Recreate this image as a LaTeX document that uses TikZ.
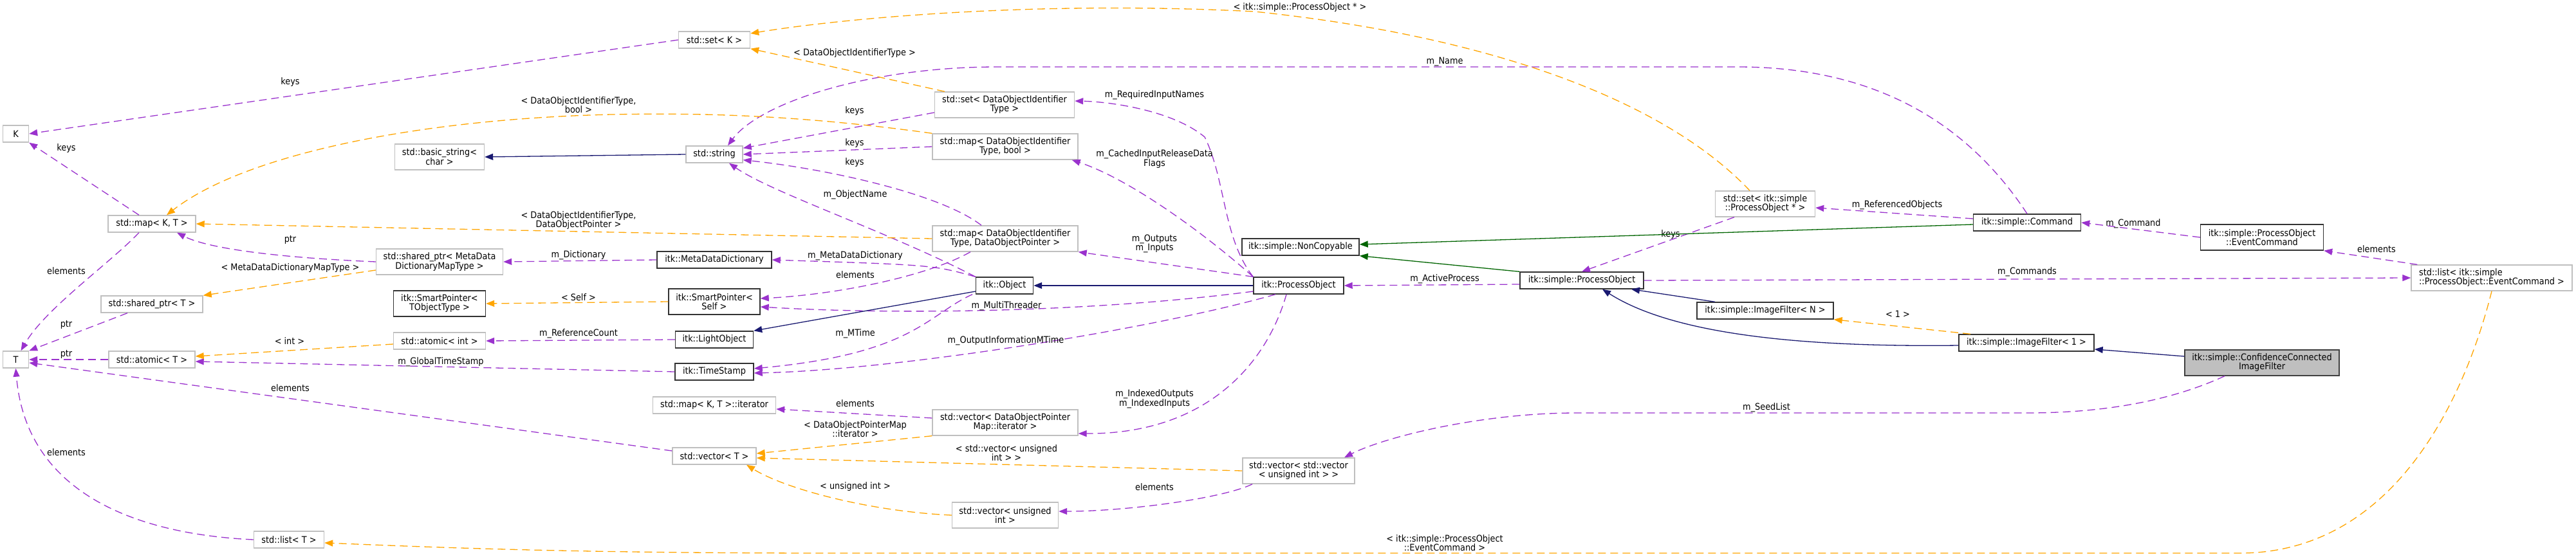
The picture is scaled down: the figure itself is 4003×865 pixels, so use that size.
\documentclass[tikz,border=0pt]{standalone}
\usepackage{fontspec}
\setmainfont{DejaVu Sans Condensed}
\usetikzlibrary{arrows.meta}
\definecolor{usePurple}{HTML}{9A32CD}
\definecolor{tmplOrange}{HTML}{FFA500}
\definecolor{pubBlue}{HTML}{191970}
\definecolor{privGreen}{HTML}{006400}
\definecolor{extGray}{HTML}{BFBFBF}

\begin{document}
\begin{tikzpicture}[x=1pt, y=-1pt, font=\fontsize{14.3}{14}\selectfont,
    classbox/.style={draw, line width=1.4pt, inner sep=2pt, minimum height=26pt, align=center, fill=white},
    extbox/.style={classbox, draw=extGray},
    docbox/.style={classbox, draw=black!80},
    curbox/.style={classbox, draw=black!75, fill=extGray},
    twoline/.style={minimum height=40pt},
    usage/.style={draw=usePurple, line width=1.3pt, dash pattern=on 12pt off 7pt, -{Triangle[length=13pt,width=10pt]}},
    tmpl/.style={draw=tmplOrange, line width=1.3pt, dash pattern=on 12pt off 7pt, -{Triangle[length=13pt,width=10pt]}},
    pubinh/.style={draw=pubBlue, line width=1.3pt, -{Triangle[length=13pt,width=10pt]}},
    privinh/.style={draw=privGreen, line width=1.3pt, -{Triangle[length=13pt,width=10pt]}},
    lbl/.style={inner sep=0pt, align=center}]
    \useasboundingbox (0,0) rectangle (4003,865);

    % std containers and plain types
    \node[extbox, minimum width=40pt] (K) at (24.5,208) {K};
    \node[extbox, minimum width=40pt] (T) at (24.5,559) {T};
    \node[extbox, minimum width=136pt] (mapKT) at (236,348) {std::map< K, T >};
    \node[extbox, minimum width=158pt] (sptrT) at (236,473) {std::shared\_ptr< T >};
    \node[extbox, minimum width=134pt] (atomT) at (236,559) {std::atomic< T >};
    \node[extbox, minimum width=109pt] (listT) at (449,839) {std::list< T >};
    \node[extbox, twoline, minimum width=139pt] (bstr) at (683,244) {std::basic\_string<\\char >};
    \node[extbox, twoline, minimum width=197pt] (sptrMD) at (683,407) {std::shared\_ptr< MetaData\\DictionaryMapType >};
    \node[docbox, twoline, minimum width=143pt] (spTOT) at (683,472) {itk::SmartPointer<\\TObjectType >};
    \node[extbox, minimum width=143pt] (atomInt) at (683,530) {std::atomic< int >};
    \node[extbox, minimum width=111pt] (setK) at (1110,62) {std::set< K >};
    \node[extbox, minimum width=88pt] (str) at (1110,240) {std::string};
    \node[docbox, minimum width=178pt] (mdd) at (1110,404) {itk::MetaDataDictionary};
    \node[docbox, twoline, minimum width=142pt] (spSelf) at (1110,469) {itk::SmartPointer<\\Self >};
    \node[docbox, minimum width=121pt] (light) at (1110,528) {itk::LightObject};
    \node[docbox, minimum width=122pt] (tstamp) at (1110,578) {itk::TimeStamp};
    \node[extbox, minimum width=191pt] (mapIt) at (1110,630) {std::map< K, T >::iterator};
    \node[extbox, minimum width=130pt] (vecT) at (1110,709) {std::vector< T >};
    \node[extbox, twoline, minimum width=217pt] (setDOI) at (1561,163) {std::set< DataObjectIdentifier\\Type >};
    \node[extbox, twoline, minimum width=226pt] (mapBool) at (1562,228) {std::map< DataObjectIdentifier\\Type, bool >};
    \node[extbox, twoline, minimum width=226pt] (mapDOP) at (1562,371) {std::map< DataObjectIdentifier\\Type, DataObjectPointer >};
    \node[docbox, minimum width=89pt] (obj) at (1561,444) {itk::Object};
    \node[extbox, twoline, minimum width=226pt] (vecDOP) at (1562,657) {std::vector< DataObjectPointer\\Map::iterator >};
    \node[extbox, twoline, minimum width=165pt] (vecUInt) at (1562,801) {std::vector< unsigned\\int >};
    % itk::simple classes
    \node[docbox, minimum width=182pt] (nonCopy) at (2021,384) {itk::simple::NonCopyable};
    \node[docbox, minimum width=140pt] (itkPO) at (2018,444) {itk::ProcessObject};
    \node[extbox, twoline, minimum width=174pt] (vvUInt) at (2018,732) {std::vector< std::vector\\< unsigned int > >};
    \node[docbox, minimum width=192pt] (simPO) at (2458,436) {itk::simple::ProcessObject};
    \node[extbox, twoline, minimum width=155pt] (setSPO) at (2743,317) {std::set< itk::simple\\::ProcessObject * >};
    \node[docbox, minimum width=212pt] (ifN) at (2743,483) {itk::simple::ImageFilter< N >};
    \node[docbox, minimum width=167pt] (cmd) at (3150,346) {itk::simple::Command};
    \node[docbox, minimum width=210pt] (if1) at (3149,533) {itk::simple::ImageFilter< 1 >};
    \node[docbox, twoline, minimum width=191pt] (evCmd) at (3515,369) {itk::simple::ProcessObject\\::EventCommand};
    \node[curbox, twoline, minimum width=240pt] (ccf) at (3515,564) {itk::simple::ConfidenceConnected\\ImageFilter};
    \node[extbox, twoline, minimum width=250pt, align=left] (listEC) at (3872,432) {std::list< itk::simple\\::ProcessObject::EventCommand >};

    % usage relations
    \draw[usage] (setK.west) -- (K.east) node[lbl] at (451,128) {keys};
    \draw[usage] ([xshift=-20pt]mapKT.north) -- (K.south east) node[lbl] at (103,231) {keys};
    \draw[usage] ([xshift=-20pt]mapKT.south) .. controls (170,410) and (70,480) .. ([xshift=8pt]T.north) node[lbl] at (103,421) {elements};
    \draw[usage] ([xshift=-38pt]sptrT.south) -- (T.north east) node[lbl] at (103,505) {ptr};
    \draw[usage] (atomT.west) -- (T.east) node[lbl] at (103,551) {ptr};
    \draw[usage] ([yshift=8pt]vecT.west) -- ([yshift=-5pt]T.east) node[lbl] at (451,603) {elements};
    \draw[usage] (listT.west) .. controls (200,830) and (40,760) .. (T.south) node[lbl] at (103,703) {elements};
    \draw[usage] (sptrMD.west) .. controls (420,400) and (320,385) .. ([xshift=39pt]mapKT.south) node[lbl] at (451,373) {ptr};
    \draw[usage] (mdd.west) -- (sptrMD.east) node[lbl] at (899,397) {m\_Dictionary};
    \draw[usage] (obj.north west) .. controls (1450,412) .. (mdd.east) node[lbl] at (1329,398) {m\_MetaDataDictionary};
    \draw[usage] (obj.north west) .. controls (1380,360) and (1200,300) .. ([xshift=23pt]str.south) node[lbl] at (1329,303) {m\_ObjectName};
    \draw[usage] ([yshift=-12pt]setDOI.west) -- ([yshift=-4pt]str.north east) node[lbl] at (1328,173) {keys};
    \draw[usage] (mapBool.west) -- (str.east) node[lbl] at (1328,223) {keys};
    \draw[usage] ([xshift=-37pt]mapDOP.north) .. controls (1460,300) and (1280,262) .. ([yshift=5pt]str.south east) node[lbl] at (1328,253) {keys};
    \draw[usage] (cmd.north) .. controls (3050,180) and (2900,104) .. (2700,104) -- (1550,104) .. controls (1350,104) and (1180,160) .. ([xshift=21pt]str.north) node[lbl] at (2245,96) {m\_Name};
    \draw[usage] (itkPO.north west) .. controls (1900,370) and (1905,280) .. (1872,213) .. controls (1820,170) and (1720,158) .. ([yshift=6pt]setDOI.east) node[lbl] at (1794,148) {m\_RequiredInputNames};
    \draw[usage] (itkPO.north west) .. controls (1880,370) and (1760,280) .. ([xshift=-10pt]mapBool.south east) node[lbl] at (1794,247) {m\_CachedInputReleaseData\\Flags};
    \draw[usage] (itkPO.north west) -- (mapDOP.south east) node[lbl] at (1794,379) {m\_Outputs\\m\_Inputs};
    \draw[usage] ([yshift=-9pt]itkPO.west) .. controls (1700,485) and (1400,490) .. ([yshift=-8pt]spSelf.east) node[lbl] at (1564,476) {m\_MultiThreader};
    \draw[usage] ([xshift=-36pt]itkPO.south) .. controls (1800,510) and (1400,575) .. ([yshift=-2pt]tstamp.east) node[lbl] at (1563,530) {m\_OutputInformationMTime};
    \draw[usage] ([xshift=-19pt]itkPO.south) .. controls (1970,560) and (1880,675) .. ([yshift=-17pt]vecDOP.east) node[lbl] at (1794,620) {m\_IndexedOutputs\\m\_IndexedInputs};
    \draw[usage] ([xshift=-54pt]mapDOP.south) .. controls (1440,430) and (1300,458) .. ([yshift=5pt]spSelf.east) node[lbl] at (1329,427) {elements};
    \draw[usage] ([xshift=-50pt]obj.south) .. controls (1440,490) and (1420,550) .. ([yshift=5pt]tstamp.east) node[lbl] at (1329,519) {m\_MTime};
    \draw[usage] (light.west) -- (atomInt.east) node[lbl] at (899,519) {m\_ReferenceCount};
    \draw[usage] (tstamp.west) -- ([yshift=-3pt]atomT.east) node[lbl] at (685,563) {m\_GlobalTimeStamp};
    \draw[usage] ([yshift=7pt]vecDOP.west) -- ([yshift=-6pt]mapIt.east) node[lbl] at (1329,627) {elements};
    \draw[usage] ([xshift=-72pt]vvUInt.south) .. controls (1900,775) and (1750,795) .. ([yshift=6pt]vecUInt.east) node[lbl] at (1794,757) {elements};
    \draw[usage] ([xshift=-58pt]ccf.south) .. controls (3380,620) and (3280,642) .. (3150,642) -- (2450,642) .. controls (2300,642) and (2150,680) .. ([xshift=71pt]vvUInt.north) node[lbl] at (2745,634) {m\_SeedList};
    \draw[usage] ([yshift=6pt]cmd.west) -- ([yshift=-6pt]setSPO.east) node[lbl] at (2948,319) {m\_ReferencedObjects};
    \draw[usage] ([xshift=-48pt]setSPO.south) -- (simPO.north) node[lbl] at (2596,365) {keys};
    \draw[usage] ([yshift=-6pt]simPO.west) -- (itkPO.east) node[lbl] at (2245,434) {m\_ActiveProcess};
    \draw[usage] (simPO.east) -- (listEC.west) node[lbl] at (3150,423) {m\_Commands};
    \draw[usage] (evCmd.west) -- (cmd.east) node[lbl] at (3315,348) {m\_Command};
    \draw[usage] ([xshift=10pt]listEC.north west) -- (evCmd.south east) node[lbl] at (3693,387) {elements};

    % template instances
    \draw[tmpl] ([xshift=-93pt]setDOI.north) -- (setK.south east) node[lbl] at (1328,83) {< DataObjectIdentifierType >};
    \draw[tmpl] ([xshift=-24pt]setSPO.north) .. controls (2600,170) and (2350,60) .. (1950,18) .. controls (1600,0) and (1300,30) .. ([yshift=10pt]setK.east) node[lbl] at (2020,12) {< itk::simple::ProcessObject * >};
    \draw[tmpl] (mapBool.north west) .. controls (1250,180) and (1100,175) .. (950,178) .. controls (650,185) and (380,240) .. ([xshift=23pt]mapKT.north) node[lbl] at (899,163) {< DataObjectIdentifierType,\\bool >};
    \draw[tmpl] (mapDOP.west) -- (mapKT.east) node[lbl] at (899,343) {< DataObjectIdentifierType,\\DataObjectPointer >};
    \draw[tmpl] ([yshift=-13pt]sptrMD.west) -- (sptrT.north east) node[lbl] at (451,417) {< MetaDataDictionaryMapType >};
    \draw[tmpl] ([yshift=-5pt]atomInt.west) -- ([yshift=5pt]atomT.east) node[lbl] at (450,530) {< int >};
    \draw[tmpl] (spSelf.west) -- (spTOT.east) node[lbl] at (899,462) {< Self >};
    \draw[tmpl] (vecDOP.south west) -- ([yshift=4pt]vecT.east) node[lbl] at (1329,667) {< DataObjectPointerMap\\::iterator >};
    \draw[tmpl] (vvUInt.west) -- ([yshift=-3pt]vecT.east) node[lbl] at (1564,704) {< std::vector< unsigned\\int > >};
    \draw[tmpl] (vecUInt.west) .. controls (1350,795) and (1220,760) .. ([xshift=50pt]vecT.south) node[lbl] at (1329,757) {< unsigned int >};
    \draw[tmpl] (listEC.south) .. controls (3830,620) and (3720,860) .. (3480,860) -- (1300,860) .. controls (900,860) and (700,852) .. ([yshift=-5pt]listT.east) node[lbl] at (2245,844) {< itk::simple::ProcessObject\\::EventCommand >};
    \draw[tmpl] ([xshift=-87pt]if1.north) -- (ifN.south east) node[lbl] at (2949,488) {< 1 >};

    % public inheritance
    \draw[pubinh] (str.west) -- (bstr.east);
    \draw[pubinh] (itkPO.west) -- (obj.east);
    \draw[pubinh] ([yshift=-9pt]obj.west) -- (light.north east);
    \draw[pubinh] ([xshift=-78pt]ifN.north) -- ([xshift=77pt]simPO.south);
    \draw[pubinh] ([yshift=-4pt]if1.west) .. controls (2800,540) and (2600,520) .. ([xshift=32pt]simPO.south);
    \draw[pubinh] ([yshift=10pt]ccf.west) -- ([yshift=-10pt]if1.east);

    % private inheritance
    \draw[privinh] (simPO.north west) -- (nonCopy.south east);
    \draw[privinh] ([yshift=-3pt]cmd.west) -- ([yshift=4pt]nonCopy.east);
\end{tikzpicture}
\end{document}
